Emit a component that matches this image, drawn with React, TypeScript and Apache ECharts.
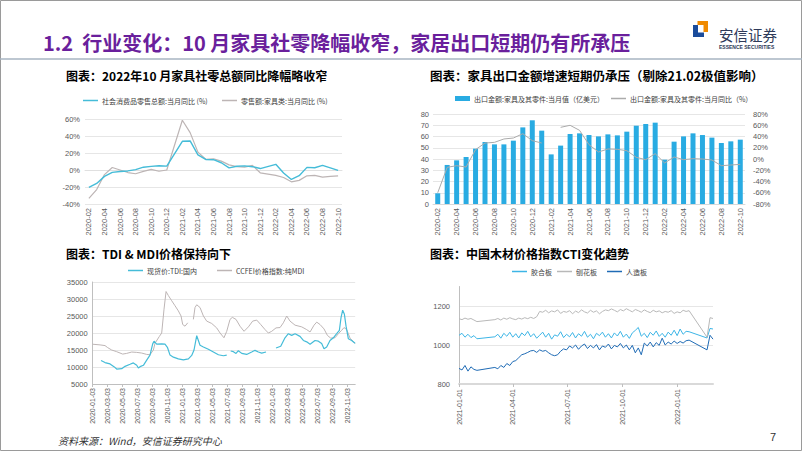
import React, { useEffect, useRef } from "react";
import * as echarts from "echarts";

// ---------- data ----------
const MONTHS = [
  "2020-02", "2020-03", "2020-04", "2020-05", "2020-06", "2020-07", "2020-08", "2020-09", "2020-10", "2020-11", "2020-12",
  "2021-01", "2021-02", "2021-03", "2021-04", "2021-05", "2021-06", "2021-07", "2021-08", "2021-09", "2021-10", "2021-11", "2021-12",
  "2022-01", "2022-02", "2022-03", "2022-04", "2022-05", "2022-06", "2022-07", "2022-08", "2022-09", "2022-10",
];
const RETAIL_TOTAL = [
  -20.5, -15.8, -7.5, -2.8, -1.8, -1.1, 0.5, 3.3, 4.3, 5.0, 4.6,
  null, 33.8, 34.2, 17.7, 12.4, 12.1, 8.5, 2.5, 4.4, 4.9, 3.9, 1.7,
  null, 6.7, -3.5, -11.1, -6.7, 3.1, 2.7, 5.4, 2.5, -0.5,
];
const FURNITURE_RETAIL = [
  -33.5, -23, -5.4, 3, 0, -3, -4.4, -1.6, 0.8, -1.5, 0,
  null, 58.5, 44, 21, 12.6, 13.2, 10.4, 6, 4, 3.4, 5.5, -3.3,
  null, -6.4, -8.8, -13.9, -12.2, -6.8, -6.3, -8.3, -7.5, -6.8,
];
const EXPORT_VAL = [
  9.5, 34.7, 38.8, 41.8, 49.2, 55.1, 53, 53, 56.3, 68.1, 74.4,
  65.2, 44.1, 51.9, 62.2, 62.8, 61.3, 60.1, 61.9, 61, 64.3, 69.6, 71.1,
  72.3, 39.4, 55.4, 60.1, 62.8, 61.3, 59, 54.2, 55.7, 57.2,
];
const EXPORT_YOY = [
  -60, -14.8, -11.9, -14.2, 16.6, 28.4, 29.6, 35.6, 37.3, 45, 32.6,
  28.4, null, 56.3, 59.9, 51, 25.5, 12.4, 17.8, 17.2, 14.8, 3, -1.2,
  9.5, -7.1, 3.6, -1.2, 0.6, 0, -1.8, -11.9, -10.7, -9.5,
];

// TDI / MDI: [months since 2020-01-03, price]
const TDI_TICKS = [
  "2020-01-03", "2020-03-03", "2020-05-03", "2020-07-03", "2020-09-03", "2020-11-03",
  "2021-01-03", "2021-03-03", "2021-05-03", "2021-07-03", "2021-09-03", "2021-11-03",
  "2022-01-03", "2022-03-03", "2022-05-03", "2022-07-03", "2022-09-03", "2022-11-03",
];
const TDI_PTS = [
  [1.11, 11900], [1.64, 11300], [2.31, 10900], [2.84, 10100], [3.2, 9400], [3.87, 9500], [4.31, 10200],
  [4.98, 10800], [5.42, 11200], [5.87, 10500], [6.09, 9700], [6.4, 10200], [6.76, 10500], [7.2, 12000],
  [7.64, 13500], [8.0, 16800], [8.18, 17600], [8.53, 16700], [9.2, 16800], [9.64, 16700], [9.96, 15800],
  [10.31, 13500], [10.76, 12900], [11.42, 12400], [12.09, 12100], [12.76, 12400], [13.2, 13400], [13.51, 15000],
  [13.87, 19200], [14.31, 16400], [14.76, 15900], [15.42, 15200], [16.09, 14400], [16.76, 13600], [17.42, 13300],
  [17.87, 13500], [18.1, null], [18.4, 14700], [18.76, 14500], [19.11, 14000], [19.42, 14800], [19.87, 14000],
  [20.53, 13700], [21.2, 14400], [21.64, 14900], [22.09, 14400], [22.53, 14100], [23.11, 14400], [23.8, null],
  [24.44, 15600], [25.07, 16100], [25.64, 18600], [26.09, 19800], [26.53, 19300], [26.98, 19800], [27.64, 19000],
  [28.09, 17800], [28.53, 17400], [28.98, 16700], [29.64, 17800], [30.09, 17600], [30.53, 16900], [30.84, 15400],
  [31.2, 15900], [31.64, 17800], [32.09, 18600], [32.53, 19800], [32.89, 20800], [33.11, 24500], [33.33, 26700],
  [33.56, 25500], [33.78, 22000], [34.09, 18300], [34.53, 17800], [34.98, 17000],
];
const MDI_PTS = [
  [0, 16700], [0.98, 16500], [1.64, 16300], [2.0, 15700], [2.53, 15000], [3.2, 14500], [4.0, 13800],
  [4.53, 14000], [5.2, 14400], [5.87, 14300], [6.53, 14100], [7.2, 13700], [7.64, 13600], [8.09, 15000],
  [8.31, 17000], [8.89, 19000], [9.2, 20000], [9.51, 27000], [9.78, 32200], [10.09, 31000], [10.53, 29500],
  [10.98, 28000], [11.42, 26500], [11.78, 25000], [12.0, 22500], [12.31, 22000], [12.67, 23000], [13.0, null],
  [13.42, 24000], [13.64, 27500], [13.87, 28300], [14.31, 27500], [14.76, 25000], [15.2, 23500], [15.87, 22800],
  [16.53, 21500], [16.98, 20000], [17.5, 18600], [17.87, 20500], [18.31, 24000], [18.62, 24600], [19.11, 24000],
  [19.64, 22000], [20.18, 20500], [20.76, 21800], [21.33, 23500], [21.87, 23800], [22.4, 22500], [22.98, 21000],
  [23.42, 20000], [23.87, 20500], [24.44, 21500], [24.98, 21600], [25.42, 23000], [25.87, 25000], [26.31, 23500],
  [26.98, 22300], [27.87, 21800], [28.53, 21000], [28.98, 20300], [29.51, 22300], [29.87, 23200], [30.31, 22500],
  [30.84, 21200], [31.29, 19300], [31.73, 18500], [32.31, 18600], [32.76, 19800], [33.2, 20800], [33.51, 21600],
  [33.87, 21000], [34.31, 18500], [34.98, 16900],
];

// CTI: one reading every 5 days from 2021-01-01
const CTI_STEP_DAYS = 5;
const CTI_TICK_DAYS = [0, 90, 181, 273, 365];
const CTI_TICK_LABELS = ["2021-01-01", "2021-04-01", "2021-07-01", "2021-10-01", "2022-01-01"];
const JHB = [
  1050, 1060, 1040, 1055, 1038, 1048, 1032,
  null, null, null, null, null,
  1042, 1055, 1035, 1060, 1045, 1065, 1040, 1058, 1036, 1062,
  1048, 1070, 1042, 1058, 1035, 1050, 1066, 1040, 1060, 1030,
  1052, 1045, 1068, 1038, 1055, 1042, 1064, 1036, 1058, 1045,
  1070, 1040, 1055, 1032, 1060, 1048, 1066, 1040, 1058, 1036,
  1062, 1046, 1070, 1040, 1056, 1034, 1062, 1075, 1090, 1045,
  1060, 1038, 1065, 1050, 1072, 1044, 1060, 1040, 1066, 1050,
  1076, 1048, 1082, 1055, 1070, 1068,
  null, null, null, null, null,
  1036, 1085, 1082,
];
const PHB = [
  1135, 1130, 1138, 1132, 1136, 1128, 1120,
  null, null, null, null, null,
  1130, 1136, 1128, 1138, 1132, 1140, 1134, 1130, 1138, 1133,
  1140, 1135, 1142, 1136, 1145, 1172, 1168, 1178, 1165, 1175,
  1170, 1180, 1162, 1172, 1168, 1176, 1160, 1174, 1166, 1180,
  1170, 1164, 1178, 1168, 1175, 1160, 1172, 1180, 1176, 1185,
  1178, 1170, 1182, 1175, 1186, 1178, 1170, 1182, 1176, 1168,
  1180, 1172, 1166, 1178, 1170, 1175, 1165, 1172, 1168, 1176,
  1162, 1170, 1165, 1178, 1172, 1176,
  null, null, null, null, null,
  1040, 1140, 1136,
];
const RZB = [
  880, 872, 895, 866, 888, 875, 870,
  null, null, null, null, null,
  885, 878, 895, 885, 905, 895, 915, 920, 935, 950,
  955, 962, 970, 972, 962, 975, 968, 972, 960, 950,
  945, 950, 968, 980, 975, 995, 985, 1000, 978, 995,
  1005, 982, 998, 985, 1002, 975, 995, 988, 1005, 980,
  998, 990, 1008, 985, 1000, 975, 998, 960, 985, 950,
  1010, 995, 1015, 990, 1012, 998, 1035, 1000, 1015, 1005,
  1020, 1008, 1018, 1010, 1022, 1025,
  null, null, null, null, null,
  975, 1050, 1030,
];

// ---------- styles ----------
const NUM_FONT = "Liberation Sans, Arial, sans-serif";
const CJK_FONT = "Noto Sans CJK SC, sans-serif";
const LABEL_COLOR = "#595959";
const SPLIT_COLOR = "#E6E6E6";
const CYAN = "#45BCD8";
const GREY = "#BDB5B5";
const BAR = "#29ABE2";

const N1 = "社会消费品零售总额:当月同比 (%)";
const N2 = "零售额:家具类:当月同比 (%)";
const N3 = "出口金额:家具及其零件:当月值（亿美元）";
const N4 = "出口金额:家具及其零件:当月同比（%）";
const N5 = "现货价:TDI:国内";
const N6 = "CCFEI价格指数:纯MDI";
const N7 = "胶合板";
const N8 = "刨花板";
const N9 = "人造板";

function legend(name: string, left: number, top: number, h = 1.5) {
  return {
    data: [name],
    left,
    top: top - 4,
    icon: "rect",
    itemWidth: 15,
    itemHeight: h,
    padding: 0,
    selectedMode: false,
    textStyle: { fontSize: 7, color: "#404040", fontFamily: CJK_FONT, padding: [0, 0, 0, -1] },
  };
}

const numLabel = (extra: any = {}) => ({ fontSize: 7.5, color: LABEL_COLOR, fontFamily: NUM_FONT, ...extra });
const plain = (v: number) => String(v);

function text(t: string, x: number, y: number, s: any) {
  return { type: "text", x, y, silent: true, style: { text: t, verticalAlign: "middle", align: "left", ...s } };
}

function buildOption(): any {
  const cti = (arr: (number | null)[]) => arr.map((v, i) => [i * CTI_STEP_DAYS, v]);
  return {
    animation: false,
    backgroundColor: "#ffffff",
    grid: [
      { left: 85, top: 119, width: 257, height: 85 },
      { left: 433, top: 114, width: 312, height: 90 },
      { left: 92.7, top: 282, width: 262.5, height: 102 },
      { left: 459, top: 286.5, width: 254, height: 97.5 },
    ],
    legend: [
      legend(N1, 83, 101),
      legend(N2, 222, 101),
      legend(N3, 455, 99, 5),
      legend(N4, 611, 99),
      legend(N5, 128, 271),
      legend(N6, 217, 271),
      legend(N7, 512, 272),
      legend(N8, 557, 272),
      legend(N9, 607, 272),
    ],
    xAxis: [
      {
        gridIndex: 0, type: "category", data: MONTHS, boundaryGap: true,
        axisTick: { show: false }, axisLine: { lineStyle: { color: "#E0E0E0" } },
        axisLabel: numLabel({ interval: 1, rotate: 90, margin: 4 }),
      },
      {
        gridIndex: 1, type: "category", data: MONTHS, boundaryGap: true,
        axisTick: { show: false }, axisLine: { lineStyle: { color: "#D9D9D9" } },
        axisLabel: numLabel({ interval: 1, rotate: 90, margin: 4 }),
      },
      {
        gridIndex: 2, type: "value", min: 0, max: 35, interval: 2,
        axisLine: { lineStyle: { color: "#BFBFBF" } },
        axisTick: { show: true, length: 3, lineStyle: { color: "#BFBFBF" } },
        splitLine: { show: false },
        axisLabel: numLabel({
          fontSize: 7, rotate: 90, margin: 4, showMaxLabel: false,
          formatter: (v: number) => TDI_TICKS[v / 2] ?? "",
        }),
      },
      {
        gridIndex: 3, type: "value", min: 0, max: 425,
        axisLine: { lineStyle: { color: "#D9D9D9", width: 2 } },
        axisTick: { show: true, length: 3, customValues: CTI_TICK_DAYS, lineStyle: { color: "#BFBFBF" } },
        splitLine: { show: false },
        axisLabel: numLabel({
          fontSize: 7, rotate: 90, margin: 5, customValues: CTI_TICK_DAYS,
          formatter: (v: number) => CTI_TICK_LABELS[CTI_TICK_DAYS.indexOf(v)] ?? "",
        }),
      },
    ],
    yAxis: [
      {
        gridIndex: 0, type: "value", min: -40, max: 60, interval: 20,
        axisLine: { show: false }, axisTick: { show: false },
        splitLine: { lineStyle: { color: SPLIT_COLOR } },
        axisLabel: numLabel({ formatter: "{value}%", margin: 5 }),
      },
      {
        gridIndex: 1, type: "value", min: 0, max: 80, interval: 10,
        axisLine: { show: false }, axisTick: { show: false },
        splitLine: { lineStyle: { color: SPLIT_COLOR } },
        axisLabel: numLabel({ margin: 4, formatter: plain }),
      },
      {
        gridIndex: 1, type: "value", min: -80, max: 80, interval: 20, position: "right",
        axisLine: { show: false }, axisTick: { show: false }, splitLine: { show: false },
        axisLabel: numLabel({ formatter: "{value}%", margin: 8 }),
      },
      {
        gridIndex: 2, type: "value", min: 5000, max: 35000, interval: 5000,
        axisLine: { show: true, lineStyle: { color: "#BFBFBF" } }, axisTick: { show: false },
        splitLine: { lineStyle: { color: SPLIT_COLOR } },
        axisLabel: numLabel({ margin: 5, formatter: plain }),
      },
      {
        gridIndex: 3, type: "value", min: 800, max: 1300, interval: 200,
        axisLine: { show: true, lineStyle: { color: "#BFBFBF" } }, axisTick: { show: false },
        splitLine: { showMaxLine: false, lineStyle: { color: SPLIT_COLOR } },
        axisLabel: numLabel({ margin: 9, showMaxLabel: false, formatter: plain }),
      },
    ],
    series: [
      {
        name: N1, type: "line", xAxisIndex: 0, yAxisIndex: 0, data: RETAIL_TOTAL, connectNulls: true,
        showSymbol: false, color: CYAN, lineStyle: { width: 1.4 }, z: 3,
      },
      {
        name: N2, type: "line", xAxisIndex: 0, yAxisIndex: 0, data: FURNITURE_RETAIL, connectNulls: true,
        showSymbol: false, color: GREY, lineStyle: { width: 1.2 }, z: 2,
      },
      {
        name: N3, type: "bar", xAxisIndex: 1, yAxisIndex: 1, data: EXPORT_VAL, barWidth: 5, color: BAR,
      },
      {
        name: N4, type: "line", xAxisIndex: 1, yAxisIndex: 2, data: EXPORT_YOY, connectNulls: false,
        showSymbol: false, color: "#ABABAB", lineStyle: { width: 1 },
      },
      {
        name: N5, type: "line", xAxisIndex: 2, yAxisIndex: 3, data: TDI_PTS, connectNulls: false,
        showSymbol: false, color: CYAN, lineStyle: { width: 1.2 }, z: 3,
      },
      {
        name: N6, type: "line", xAxisIndex: 2, yAxisIndex: 3, data: MDI_PTS, connectNulls: false,
        showSymbol: false, color: GREY, lineStyle: { width: 1 }, z: 2,
      },
      {
        name: N7, type: "line", xAxisIndex: 3, yAxisIndex: 4, data: cti(JHB), connectNulls: true,
        showSymbol: false, color: "#3DB5E6", lineStyle: { width: 1 },
      },
      {
        name: N8, type: "line", xAxisIndex: 3, yAxisIndex: 4, data: cti(PHB), connectNulls: true,
        showSymbol: false, color: "#B8B8B8", lineStyle: { width: 1 },
      },
      {
        name: N9, type: "line", xAxisIndex: 3, yAxisIndex: 4, data: cti(RZB), connectNulls: true,
        showSymbol: false, color: "#1F6BB5", lineStyle: { width: 1 },
      },
    ],
    graphic: [
      { type: "rect", silent: true, shape: { x: 0.5, y: 0.5, width: 801, height: 450 }, style: { fill: "none", stroke: "#9A9A9A", lineWidth: 1 } },
      { type: "line", silent: true, shape: { x1: 0, y1: 59, x2: 802, y2: 59 }, style: { stroke: "#A7B4C2", lineWidth: 1.5 } },
      text("1.2  行业变化：10 月家具社零降幅收窄，家居出口短期仍有所承压", 43, 42, {
        fontSize: 20, fontWeight: "bold", fontFamily: CJK_FONT, fill: "#6A1F9C",
      }),
      // logo
      { type: "polygon", silent: true, shape: { points: [[693, 25], [698, 25], [698, 32.5], [704, 32.5], [704, 37], [693, 37]] }, style: { fill: "#1A4B9B" } },
      { type: "polygon", silent: true, shape: { points: [[697.5, 21], [708, 21], [708, 32], [703.5, 32], [703.5, 25], [697.5, 25]] }, style: { fill: "#F08A00" } },
      text("安信证券", 719, 34, { fontSize: 14.5, fontFamily: CJK_FONT, fill: "#2E3A59" }),
      text("ESSENCE SECURITIES", 719, 47, { fontSize: 5, fontFamily: NUM_FONT, fill: "#2E3A59", fontWeight: "bold" }),
      // chart titles
      text("图表：2022年10 月家具社零总额同比降幅略收窄", 66, 75, { fontSize: 12, fontWeight: "bold", fontFamily: CJK_FONT, fill: "#000" }),
      text("图表：家具出口金额增速短期仍承压（剔除21.02极值影响）", 430, 75, { fontSize: 12.5, fontWeight: "bold", fontFamily: CJK_FONT, fill: "#000" }),
      text("图表：TDI & MDI价格保持向下", 66, 253, { fontSize: 12, fontWeight: "bold", fontFamily: CJK_FONT, fill: "#000" }),
      text("图表：中国木材价格指数CTI变化趋势", 430, 253, { fontSize: 12, fontWeight: "bold", fontFamily: CJK_FONT, fill: "#000" }),
      // footer
      text("资料来源：Wind，安信证券研究中心", 58, 440, { fontSize: 10, fontStyle: "italic", fontFamily: CJK_FONT, fill: "#333" }),
      text("7", 770, 437, { fontSize: 11, fontFamily: NUM_FONT, fill: "#333" }),
    ],
  };
}

export default function App() {
  const ref = useRef<HTMLDivElement>(null);
  useEffect(() => {
    if (!ref.current) return;
    const chart = echarts.init(ref.current, null, { renderer: "svg" });
    chart.setOption(buildOption());
    return () => chart.dispose();
  }, []);
  return (
    <div
      ref={ref}
      style={{ position: "fixed", left: 0, top: 0, width: 802, height: 451, background: "#fff" }}
    />
  );
}
